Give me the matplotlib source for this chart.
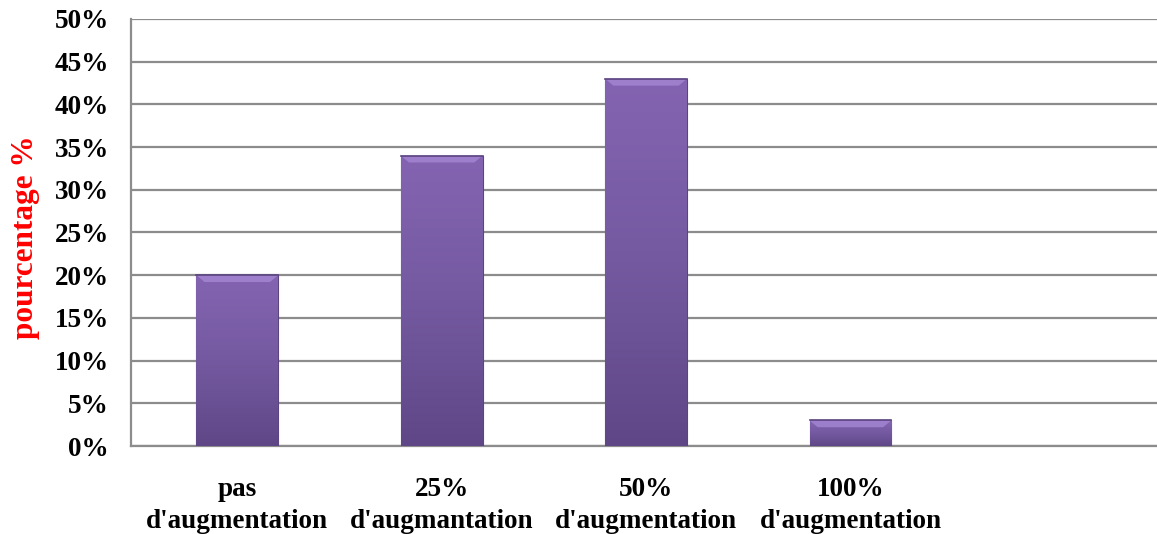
import matplotlib
matplotlib.use("Agg")
import matplotlib.pyplot as plt
import numpy as np
from matplotlib.colors import LinearSegmentedColormap
from matplotlib.patches import Polygon

categories = ["pas\nd'augmentation", "25%\nd'augmantation", "50%\nd'augmentation", "100%\nd'augmentation", ""]
values = [20, 34, 43, 3, None]
yticks = [0, 5, 10, 15, 20, 25, 30, 35, 40, 45, 50]
ytick_labels = [f"{v}%" for v in yticks]
ylabel = "pourcentage %"

plt.rcParams['font.family'] = ['Liberation Serif', 'DejaVu Serif']
plt.rcParams['font.weight'] = 'bold'

fig = plt.figure(figsize=(11.57, 5.34), dpi=100)
ax = fig.add_axes([131/1157, 1-446/534, 1-131/1157, (446-19)/534])

x = np.arange(len(categories))
bar_x = [i for i, v in zip(x, values) if v is not None]
bar_v = [v for v in values if v is not None]

bars = ax.bar(bar_x, bar_v, width=0.40, color="#7A5CA8", edgecolor="#5B4480",
              linewidth=0.8, zorder=3)

cmap = LinearSegmentedColormap.from_list("g", ["#5F4787", "#7459A0", "#8464B2"])
grad = np.linspace(0, 1, 256).reshape(-1, 1)
for b in bars:
    x0, w, h = b.get_x(), b.get_width(), b.get_height()
    im = ax.imshow(grad, cmap=cmap, origin="lower", aspect="auto",
                   extent=[x0, x0 + w, 0, h], zorder=3.5)
    im.set_clip_path(b)
    # top bevel (trapezoid highlight)
    bev = min(0.8, h * 0.3)
    inset = 0.04
    poly = Polygon([[x0, h], [x0 + w, h], [x0 + w - inset, h - bev], [x0 + inset, h - bev]],
                   closed=True, facecolor="#A285D2", edgecolor="none", alpha=0.85, zorder=4)
    ax.add_patch(poly)
    ax.plot([x0, x0 + w], [h, h], color="#5B4480", lw=1.2, zorder=5)

ax.set_xlim(-0.52, 4.5)
ax.set_ylim(0, 50)
ax.set_yticks(yticks)
ax.set_yticklabels(ytick_labels, fontsize=19.5, fontweight='bold')
ax.set_xticks(x)
ax.set_xticklabels(categories, fontsize=19.5, fontweight='bold', linespacing=1.38)
ax.tick_params(axis='y', length=0, pad=16)
ax.tick_params(axis='x', length=0, pad=22)

ax.yaxis.grid(True, color="#8C8C8C", linewidth=1.6, zorder=0)
ax.set_axisbelow(True)
for s in ["top", "right"]:
    ax.spines[s].set_visible(False)
ax.spines["left"].set_color("#8C8C8C")
ax.spines["left"].set_linewidth(1.6)
ax.spines["bottom"].set_color("#8C8C8C")
ax.spines["bottom"].set_linewidth(1.6)

ax.set_ylabel(ylabel, fontsize=22.5, fontweight='bold', color="#FF0000")
ax.yaxis.set_label_coords(-0.089, 0.49)

fig.savefig("out.png", dpi=100)
